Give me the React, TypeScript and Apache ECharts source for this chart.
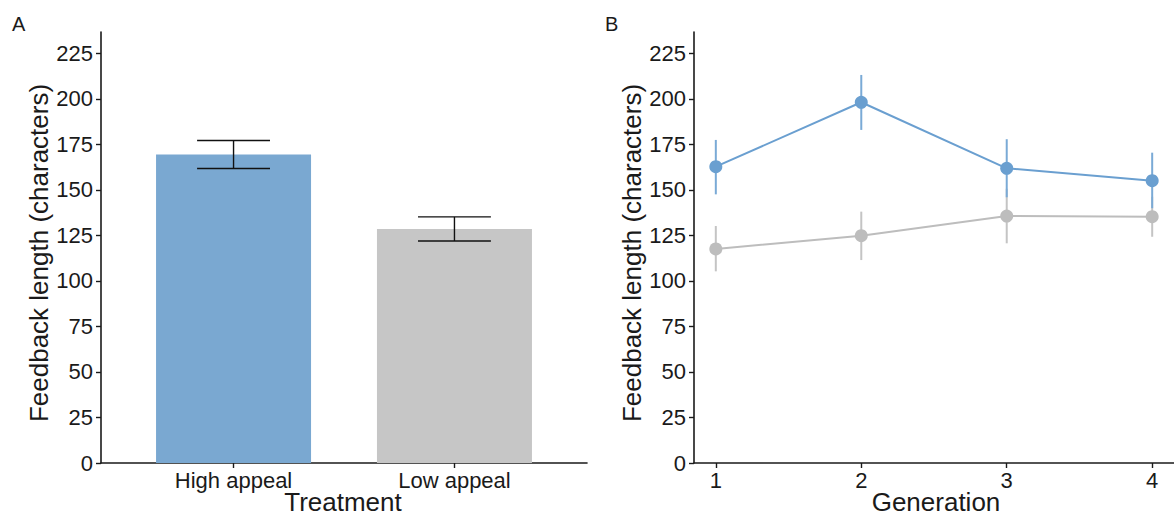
import React, { useEffect, useRef } from "react";
import * as echarts from "echarts";

// Panel A: mean feedback length by treatment
const treatments = ["High appeal", "Low appeal"];
const treatmentMeans = [169.5, 128.6];
const treatmentErrors = [7.7, 6.6];
const treatmentColors = ["#7aa8d1", "#c6c6c6"];

// Panel B: mean feedback length by generation
const generations = [1, 2, 3, 4];
const highMeans = [162.8, 198.2, 161.9, 155.1];
const highLow = [147.6, 183.0, 146.0, 140.0];
const highHigh = [177.5, 213.2, 177.9, 170.5];
const lowMeans = [117.6, 124.9, 135.7, 135.3];
const lowLow = [105.3, 111.5, 120.7, 124.3];
const lowHigh = [130.2, 138.1, 150.7, 146.3];

const yTicks = [0, 25, 50, 75, 100, 125, 150, 175, 200, 225];
const FONT = "Liberation Sans, Arial, sans-serif";
const INK = "#1a1a1a";
const TICK_FONT = 22;
const TITLE_FONT = 26;

function App() {
  const ref = useRef<HTMLDivElement>(null);

  useEffect(() => {
    document.body.style.margin = "0";
    const chart = echarts.init(ref.current!, undefined, { renderer: "svg" });

    const yAxisCommon = (gridIndex: number) => ({
      type: "value" as const,
      gridIndex,
      min: 0,
      max: 236.8,
      axisLine: { show: true, lineStyle: { color: INK, width: 1.6 } },
      axisTick: {
        show: true,
        length: 5,
        customValues: yTicks,
        lineStyle: { color: INK, width: 1.4 },
      },
      axisLabel: {
        customValues: yTicks,
        margin: 8,
        color: INK,
        fontSize: TICK_FONT,
        fontFamily: FONT,
      },
      splitLine: { show: false },
    });

    const errorBars = (
      xIndex: number,
      yIndex: number,
      xs: number[],
      lo: number[],
      hi: number[],
      color: string,
      width: number,
      cap: number,
      z: number
    ) => ({
      type: "custom" as const,
      xAxisIndex: xIndex,
      yAxisIndex: yIndex,
      z,
      silent: true,
      data: xs.map((x, i) => [x, lo[i], hi[i]]),
      renderItem: (_params: any, api: any) => {
        const x = api.value(0);
        const top = api.coord([x, api.value(2)]);
        const bot = api.coord([x, api.value(1)]);
        const style = { stroke: color, lineWidth: width };
        const children: any[] = [
          { type: "line", shape: { x1: top[0], y1: top[1], x2: bot[0], y2: bot[1] }, style },
        ];
        if (cap > 0) {
          const l = api.coord([x - cap, api.value(2)])[0];
          const r = api.coord([x + cap, api.value(2)])[0];
          children.push(
            { type: "line", shape: { x1: l, y1: top[1], x2: r, y2: top[1] }, style },
            { type: "line", shape: { x1: l, y1: bot[1], x2: r, y2: bot[1] }, style }
          );
        }
        return { type: "group", children };
      },
    });

    const titleStyle = { fill: INK, fontSize: TITLE_FONT, fontFamily: FONT };

    chart.setOption({
      animation: false,
      grid: [
        { left: 101, top: 32, width: 486, height: 431 },
        { left: 694, top: 32, width: 485, height: 431 },
      ],
      xAxis: [
        {
          type: "value",
          gridIndex: 0,
          min: 0.4,
          max: 2.6,
          axisLine: { show: true, lineStyle: { color: INK, width: 1.6 } },
          axisTick: { show: true, length: 5, customValues: [1, 2], lineStyle: { color: INK, width: 1.4 } },
          axisLabel: {
            customValues: [1, 2],
            formatter: (v: number) => treatments[Math.round(v) - 1] ?? "",
            margin: 6,
            color: INK,
            fontSize: TICK_FONT,
            fontFamily: FONT,
          },
          splitLine: { show: false },
        },
        {
          type: "value",
          gridIndex: 1,
          min: 0.85,
          max: 4.15,
          axisLine: { show: true, lineStyle: { color: INK, width: 1.6 } },
          axisTick: { show: true, length: 5, customValues: generations, lineStyle: { color: INK, width: 1.4 } },
          axisLabel: {
            customValues: generations,
            margin: 6,
            color: INK,
            fontSize: TICK_FONT,
            fontFamily: FONT,
          },
          splitLine: { show: false },
        },
      ],
      yAxis: [yAxisCommon(0), yAxisCommon(1)],
      series: [
        {
          type: "bar",
          xAxisIndex: 0,
          yAxisIndex: 0,
          barWidth: 155,
          z: 2,
          data: treatments.map((_, i) => ({
            value: [i + 1, treatmentMeans[i]],
            itemStyle: { color: treatmentColors[i] },
          })),
        },
        errorBars(
          0,
          0,
          [1, 2],
          treatmentMeans.map((m, i) => m - treatmentErrors[i]),
          treatmentMeans.map((m, i) => m + treatmentErrors[i]),
          "#111111",
          1.4,
          0.165,
          3
        ),
        errorBars(1, 1, generations, lowLow, lowHigh, "#c4c4c4", 2, 0, 4),
        {
          type: "line",
          xAxisIndex: 1,
          yAxisIndex: 1,
          z: 5,
          data: generations.map((g, i) => [g, lowMeans[i]]),
          symbol: "circle",
          symbolSize: 13,
          lineStyle: { color: "#bdbdbd", width: 2 },
          itemStyle: { color: "#bdbdbd" },
        },
        errorBars(1, 1, generations, highLow, highHigh, "#7aaad6", 2, 0, 6),
        {
          type: "line",
          xAxisIndex: 1,
          yAxisIndex: 1,
          z: 7,
          data: generations.map((g, i) => [g, highMeans[i]]),
          symbol: "circle",
          symbolSize: 13,
          lineStyle: { color: "#6a9fd0", width: 2 },
          itemStyle: { color: "#6a9fd0" },
        },
      ],
      graphic: [
        {
          type: "text",
          x: 12,
          y: 24,
          style: { text: "A", fill: INK, fontSize: 20, fontFamily: FONT, verticalAlign: "middle" },
        },
        {
          type: "text",
          x: 605,
          y: 24,
          style: { text: "B", fill: INK, fontSize: 20, fontFamily: FONT, verticalAlign: "middle" },
        },
        {
          type: "text",
          x: 39,
          y: 253,
          rotation: Math.PI / 2,
          style: { ...titleStyle, text: "Feedback length (characters)", align: "center", verticalAlign: "middle" },
        },
        {
          type: "text",
          x: 632,
          y: 253,
          rotation: Math.PI / 2,
          style: { ...titleStyle, text: "Feedback length (characters)", align: "center", verticalAlign: "middle" },
        },
        {
          type: "text",
          x: 343,
          y: 502,
          style: { ...titleStyle, text: "Treatment", align: "center", verticalAlign: "middle" },
        },
        {
          type: "text",
          x: 936,
          y: 502,
          style: { ...titleStyle, text: "Generation", align: "center", verticalAlign: "middle" },
        },
      ],
    });

    return () => chart.dispose();
  }, []);

  return <div ref={ref} style={{ width: 1174, height: 518 }} />;
}

export default App;
